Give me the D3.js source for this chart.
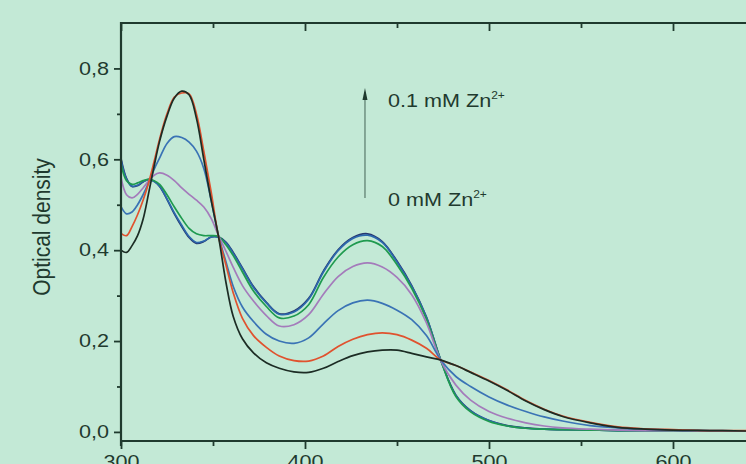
<!DOCTYPE html>
<html>
<head>
<meta charset="utf-8">
<script src="https://cdn.jsdelivr.net/npm/d3@7"></script>
<style>
  html, body { margin: 0; padding: 0; background: #c3e9d6; overflow: hidden; }
  text { font-family: "Liberation Sans", Arial, Helvetica, sans-serif; fill: #1f3a2e; }
</style>
</head>
<body>
<svg id="chart" width="746" height="464"></svg>
<script>
// Absorption spectra, wavelength in nm
const wavelengths = [300, 303, 306, 309, 312, 315, 318, 321, 325, 329, 333, 337, 341, 345, 349, 353, 357, 361, 366, 372, 379, 386, 394, 402, 410, 418, 426, 434, 442, 450, 458, 466, 474, 482, 490, 500, 510, 520, 530, 540, 555, 570, 585, 600, 620, 640, 655];

// Optical density, one array per Zn2+ addition step (0 mM ... 0.1 mM)
const odStep0 = [0.400, 0.395, 0.410, 0.432, 0.468, 0.525, 0.585, 0.640, 0.695, 0.735, 0.750, 0.742, 0.690, 0.600, 0.510, 0.430, 0.330, 0.254, 0.205, 0.174, 0.152, 0.140, 0.132, 0.131, 0.140, 0.155, 0.168, 0.176, 0.180, 0.180, 0.173, 0.165, 0.158, 0.146, 0.131, 0.112, 0.091, 0.068, 0.049, 0.034, 0.020, 0.010, 0.006, 0.004, 0.003, 0.002, 0.002];
const odStep1 = [0.437, 0.432, 0.452, 0.478, 0.510, 0.548, 0.595, 0.645, 0.700, 0.737, 0.746, 0.744, 0.700, 0.618, 0.528, 0.430, 0.368, 0.306, 0.250, 0.212, 0.186, 0.167, 0.157, 0.156, 0.167, 0.188, 0.204, 0.214, 0.218, 0.214, 0.202, 0.184, 0.158, 0.146, 0.132, 0.113, 0.092, 0.069, 0.050, 0.035, 0.021, 0.011, 0.007, 0.005, 0.003, 0.003, 0.002];
const odStep2 = [0.496, 0.480, 0.484, 0.500, 0.522, 0.548, 0.578, 0.603, 0.635, 0.650, 0.648, 0.638, 0.618, 0.580, 0.510, 0.432, 0.375, 0.320, 0.275, 0.243, 0.215, 0.200, 0.195, 0.207, 0.238, 0.267, 0.284, 0.290, 0.283, 0.268, 0.247, 0.212, 0.157, 0.122, 0.100, 0.077, 0.059, 0.045, 0.033, 0.024, 0.014, 0.009, 0.006, 0.004, 0.003, 0.002, 0.002];
const odStep3 = [0.560, 0.522, 0.515, 0.523, 0.537, 0.552, 0.565, 0.570, 0.565, 0.553, 0.537, 0.523, 0.510, 0.495, 0.470, 0.432, 0.398, 0.362, 0.322, 0.288, 0.256, 0.233, 0.236, 0.258, 0.303, 0.342, 0.364, 0.372, 0.363, 0.340, 0.302, 0.240, 0.155, 0.103, 0.070, 0.045, 0.030, 0.020, 0.013, 0.009, 0.006, 0.004, 0.003, 0.003, 0.002, 0.002, 0.002];
const odStep4 = [0.590, 0.553, 0.545, 0.548, 0.553, 0.556, 0.553, 0.545, 0.522, 0.495, 0.470, 0.448, 0.436, 0.432, 0.432, 0.430, 0.412, 0.388, 0.352, 0.310, 0.276, 0.251, 0.255, 0.280, 0.340, 0.385, 0.412, 0.421, 0.408, 0.368, 0.316, 0.248, 0.155, 0.078, 0.044, 0.023, 0.013, 0.008, 0.006, 0.005, 0.004, 0.003, 0.003, 0.002, 0.002, 0.002, 0.002];
const odStep5 = [0.598, 0.556, 0.541, 0.543, 0.551, 0.555, 0.551, 0.541, 0.513, 0.482, 0.455, 0.430, 0.417, 0.420, 0.429, 0.428, 0.416, 0.393, 0.359, 0.318, 0.284, 0.259, 0.264, 0.292, 0.352, 0.399, 0.426, 0.433, 0.417, 0.374, 0.320, 0.252, 0.155, 0.080, 0.046, 0.025, 0.013, 0.008, 0.006, 0.005, 0.004, 0.003, 0.003, 0.003, 0.002, 0.002, 0.002];
const odStep6 = [0.602, 0.558, 0.540, 0.542, 0.550, 0.556, 0.552, 0.540, 0.512, 0.480, 0.452, 0.428, 0.415, 0.419, 0.429, 0.429, 0.418, 0.395, 0.361, 0.320, 0.285, 0.260, 0.266, 0.294, 0.354, 0.401, 0.428, 0.436, 0.419, 0.376, 0.322, 0.253, 0.156, 0.081, 0.047, 0.025, 0.014, 0.009, 0.006, 0.005, 0.004, 0.003, 0.003, 0.003, 0.002, 0.002, 0.002];

// Axis ticks
const xMajorTicks = [300, 400, 500, 600, 700];
const xMinorTicks = [350, 450, 550, 650];
const yMajorTicks = [0.0, 0.2, 0.4, 0.6, 0.8];
const yMinorTicks = [0.1, 0.3, 0.5, 0.7];

// Annotation labels
const labelHigh = "0.1 mM Zn";
const labelLow = "0 mM Zn";
const labelCharge = "2+";

// Line colours, drawn back to front
const drawOrder = [6, 5, 4, 3, 2, 1, 0];
const lineColors = ["#1c2c24", "#e0522e", "#3a73b5", "#a47bbb", "#1f9a4f", "#2c68ad", "#27366f"];

const series = [odStep0, odStep1, odStep2, odStep3, odStep4, odStep5, odStep6];

const svg = d3.select("#chart");
const W = 746, H = 464;
const axisColor = "#1f3a2e";
const stretch = 1.2; // wide lettering

svg.append("rect").attr("width", W).attr("height", H).attr("fill", "#c3e9d6");

const plotLeft = 121, plotTop = 23, plotBottom = 441;
const x = d3.scaleLinear().domain([300, 700]).range([plotLeft, plotLeft + 736]);
const y = d3.scaleLinear().domain([-0.02, 0.9]).range([plotBottom, plotTop]);

const defs = svg.append("defs");
defs.append("clipPath").attr("id", "plotClip")
  .append("rect").attr("x", plotLeft).attr("y", plotTop)
  .attr("width", W - plotLeft).attr("height", plotBottom - plotTop);

// Spectra
const line = d3.line()
  .x((d, i) => x(wavelengths[i]))
  .y(d => y(d))
  .curve(d3.curveCatmullRom.alpha(0.5));

const plot = svg.append("g").attr("clip-path", "url(#plotClip)");
drawOrder.forEach(k => {
  plot.append("path")
    .datum(series[k])
    .attr("d", line)
    .attr("fill", "none")
    .attr("stroke", lineColors[k])
    .attr("stroke-width", 1.7)
    .attr("stroke-linejoin", "round");
});

function styleAxis(g) {
  g.select(".domain").remove();
  g.selectAll(".tick line").attr("stroke", axisColor).attr("stroke-width", 1.8);
  g.selectAll(".tick text").attr("fill", axisColor).style("font-size", "18px")
    .attr("font-family", "Liberation Sans, Arial, sans-serif");
}

// Left axis
const yMajor = svg.append("g").attr("transform", `translate(${plotLeft},0)`)
  .call(d3.axisLeft(y).tickValues(yMajorTicks).tickSize(7).tickPadding(3)
    .tickFormat(d => d.toFixed(1).replace(".", ",")));
styleAxis(yMajor);
yMajor.selectAll(".tick text")
  .attr("x", -12 / stretch)
  .attr("transform", `scale(${stretch},1)`);

const yMinor = svg.append("g").attr("transform", `translate(${plotLeft},0)`)
  .call(d3.axisLeft(y).tickValues(yMinorTicks).tickSize(4).tickFormat(""));
styleAxis(yMinor);

// Bottom axis
const xMajor = svg.append("g").attr("transform", `translate(0,${plotBottom})`)
  .call(d3.axisBottom(x).tickValues(xMajorTicks).tickSize(8).tickPadding(6).tickFormat(d3.format("d")));
styleAxis(xMajor);
xMajor.selectAll(".tick text").attr("transform", `scale(${stretch},1)`);

const xMinor = svg.append("g").attr("transform", `translate(0,${plotBottom})`)
  .call(d3.axisBottom(x).tickValues(xMinorTicks).tickSize(5).tickFormat(""));
styleAxis(xMinor);

// Top axis, ticks pointing inward
const xTopMajor = svg.append("g").attr("transform", `translate(0,${plotTop})`)
  .call(d3.axisBottom(x).tickValues(xMajorTicks).tickSize(8).tickFormat(""));
styleAxis(xTopMajor);
const xTopMinor = svg.append("g").attr("transform", `translate(0,${plotTop})`)
  .call(d3.axisBottom(x).tickValues(xMinorTicks).tickSize(5).tickFormat(""));
styleAxis(xTopMinor);

// Frame lines
svg.append("line").attr("x1", plotLeft).attr("x2", plotLeft).attr("y1", plotTop - 1).attr("y2", plotBottom + 5)
  .attr("stroke", axisColor).attr("stroke-width", 2.2);
svg.append("line").attr("x1", plotLeft - 1).attr("x2", W).attr("y1", plotBottom).attr("y2", plotBottom)
  .attr("stroke", axisColor).attr("stroke-width", 2.2);
svg.append("line").attr("x1", plotLeft - 1).attr("x2", W).attr("y1", plotTop).attr("y2", plotTop)
  .attr("stroke", axisColor).attr("stroke-width", 2.2);

// Y axis title
svg.append("text")
  .attr("transform", `translate(50,227) scale(1.1,1) rotate(-90)`)
  .attr("text-anchor", "middle")
  .style("font-size", "21px")
  .attr("fill", axisColor)
  .text("Optical density");

// Titration arrow
const arrowX = x(432.6);
svg.append("line")
  .attr("x1", arrowX).attr("x2", arrowX)
  .attr("y1", 198).attr("y2", 92)
  .attr("stroke", "#4f6f60").attr("stroke-width", 1.1);
svg.append("path")
  .attr("d", `M${arrowX - 2.5},100 L${arrowX},88 L${arrowX + 2.5},100 Z`)
  .attr("fill", "#1f3a2e");

function znLabel(text, px, py) {
  const g = svg.append("g").attr("transform", `translate(${px},${py}) scale(${stretch},1)`);
  const t = g.append("text").style("font-size", "18px").attr("fill", axisColor);
  t.append("tspan").text(text);
  t.append("tspan").attr("dy", -8).style("font-size", "10px").text(labelCharge);
}
znLabel(labelHigh, arrowX + 23, 106.5);
znLabel(labelLow, arrowX + 23, 205.5);
</script>
</body>
</html>
